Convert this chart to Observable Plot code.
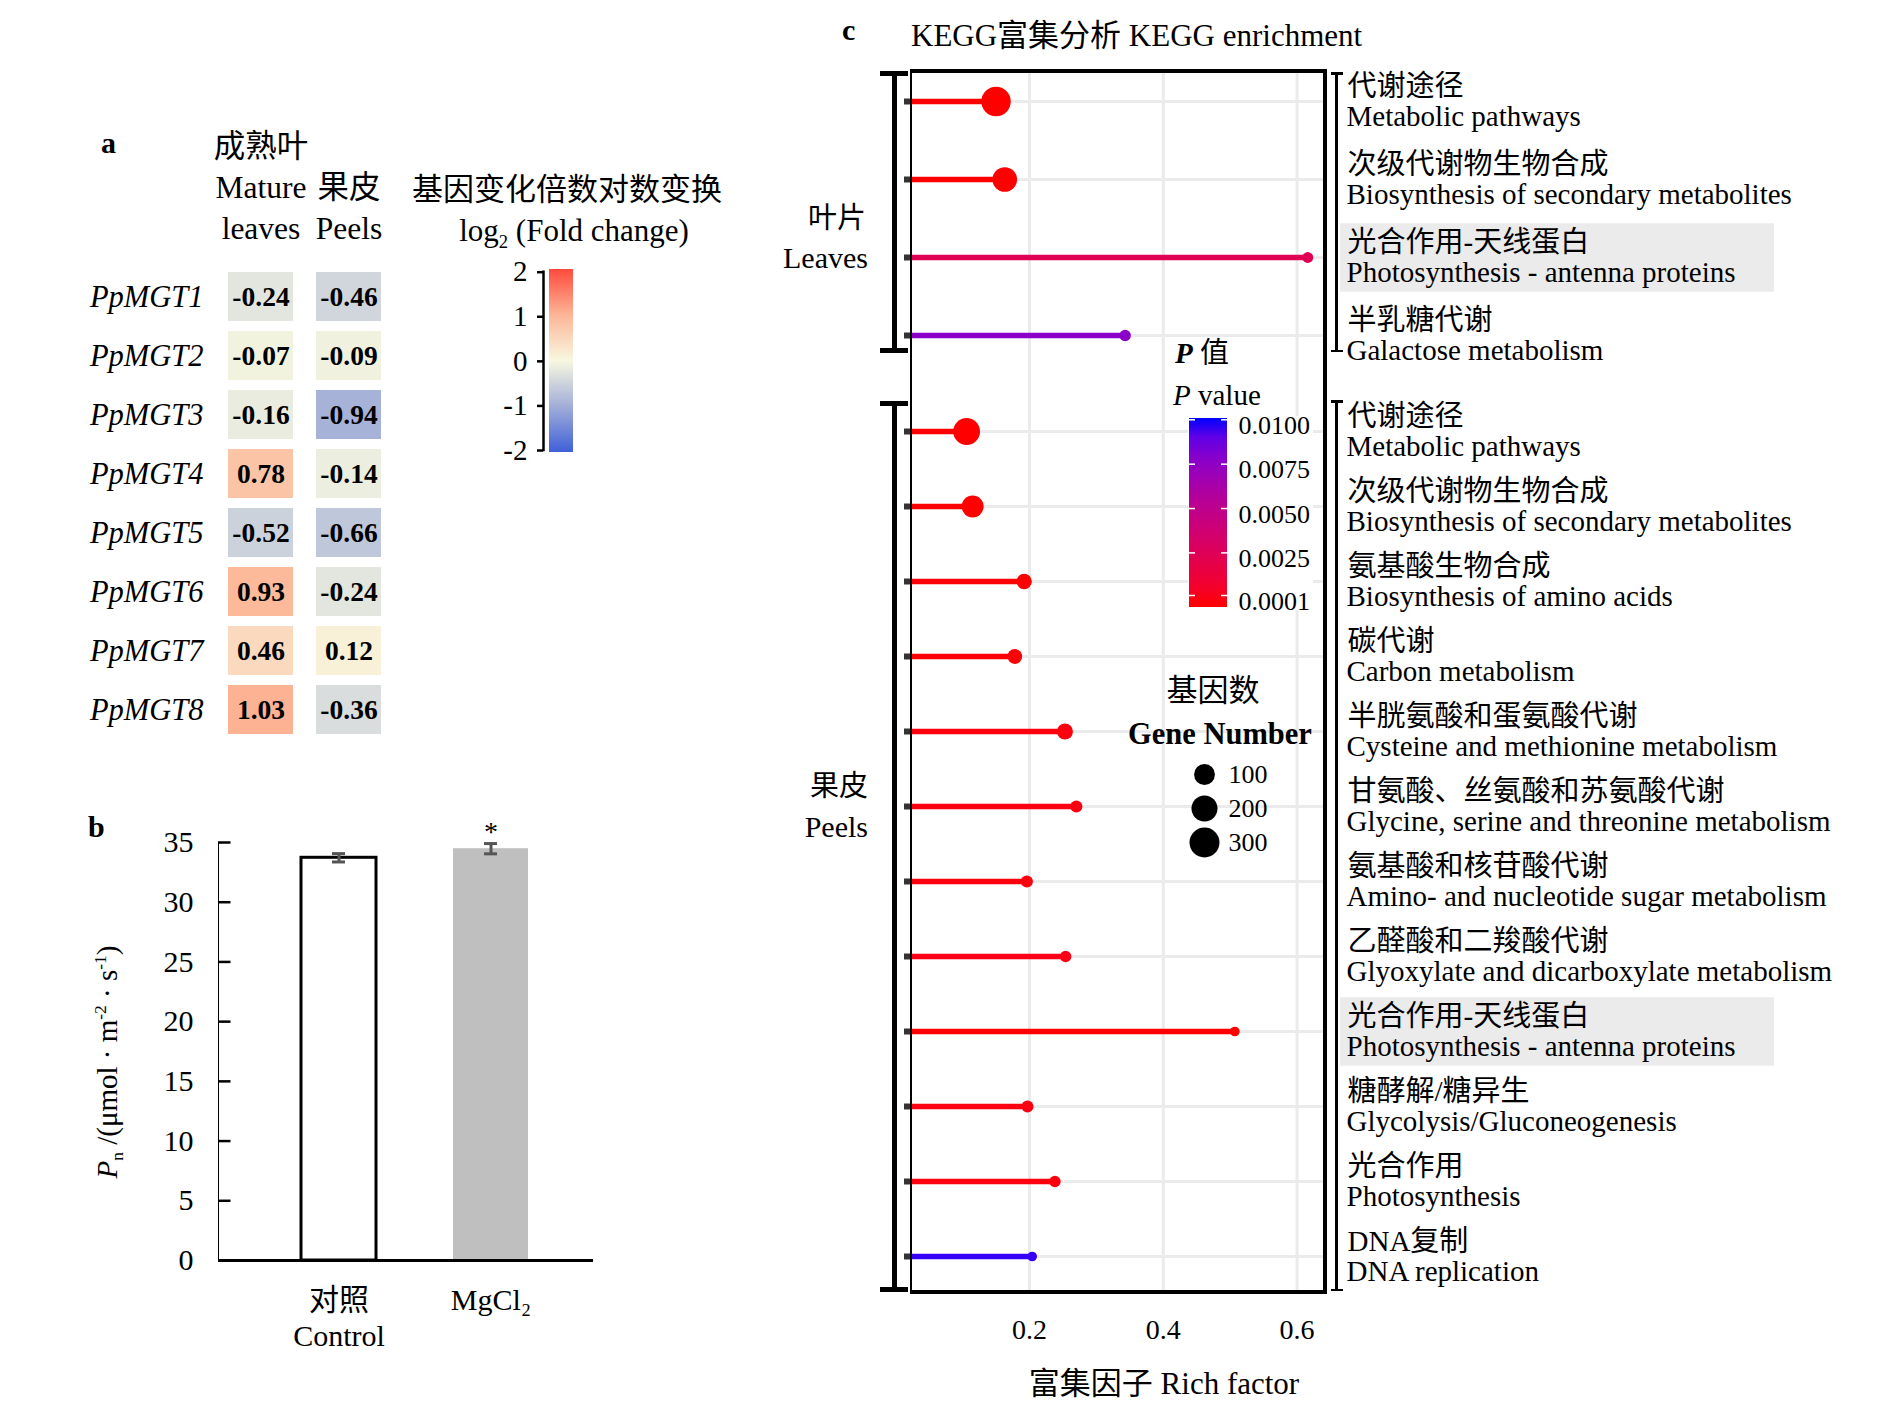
<!DOCTYPE html>
<html><head><meta charset="utf-8">
<script src="https://cdn.jsdelivr.net/npm/d3@7"></script>
<script src="https://cdn.jsdelivr.net/npm/@observablehq/plot@0.6"></script>
<style>
html,body{margin:0;padding:0;background:#fff;}
#fig{position:relative;width:1890px;height:1417px;overflow:hidden;font-family:"Liberation Serif","Times New Roman","Noto Sans CJK SC",serif;color:#000;background:#fff;}
.abs{position:absolute;white-space:nowrap;line-height:1;}
.abs svg{overflow:visible;}
sub,sup{font-size:0.6em;line-height:0;}
</style></head><body><div id="fig"></div>
<script>
// ================= DATA =================
// panel a
const genes = ["PpMGT1","PpMGT2","PpMGT3","PpMGT4","PpMGT5","PpMGT6","PpMGT7","PpMGT8"];
const tissues = ["Mature leaves","Peels"];
const tissueHeaders = ["成熟叶\nMature\nleaves","果皮\nPeels"];
const matureLog2FC = [-0.24,-0.07,-0.16,0.78,-0.52,0.93,0.46,1.03];
const peelLog2FC = [-0.46,-0.09,-0.94,-0.14,-0.66,-0.24,0.12,-0.36];
const fcTicks = [-2,-1,0,1,2];
const fcColors = ["#3f60d8","#a2aed8","#f8f8e0","#fcb596","#ff4a3c"];
// panel b
const treatments = ["Control","MgCl2"];
const treatmentLabels = ["对照\nControl","MgCl₂"];
const pnMean = [33.72, 34.48];
const pnSE = [0.35, 0.43];
const pnSignif = ["", "*"];
const pnTicks = [0,5,10,15,20,25,30,35];
// panel c
const leafCn = ["代谢途径","次级代谢物生物合成","光合作用-天线蛋白","半乳糖代谢"];
const leafEn = ["Metabolic pathways","Biosynthesis of secondary metabolites","Photosynthesis - antenna proteins","Galactose metabolism"];
const leafRich = [0.150,0.163,0.616,0.343];
const leafGenes = [284,169,4,6];
const leafP = [0.0001,0.0001,0.0028,0.0078];
const peelCn = ["代谢途径","次级代谢物生物合成","氨基酸生物合成","碳代谢","半胱氨酸和蛋氨酸代谢","甘氨酸、丝氨酸和苏氨酸代谢","氨基酸和核苷酸代谢","乙醛酸和二羧酸代谢","光合作用-天线蛋白","糖酵解/糖异生","光合作用","DNA复制"];
const peelEn = ["Metabolic pathways","Biosynthesis of secondary metabolites","Biosynthesis of amino acids","Carbon metabolism","Cysteine and methionine metabolism","Glycine, serine and threonine metabolism","Amino- and nucleotide sugar metabolism","Glyoxylate and dicarboxylate metabolism","Photosynthesis - antenna proteins","Glycolysis/Gluconeogenesis","Photosynthesis","DNA replication"];
const peelRich = [0.106,0.115,0.192,0.178,0.253,0.270,0.196,0.254,0.507,0.197,0.238,0.204];
const peelGenes = [218,119,31,26,37,9,9,6,1,8,6,1];
const peelP = [0.0001,0.0001,0.0002,0.0002,0.0003,0.0004,0.0003,0.0005,0.0001,0.0004,0.0003,0.0097];
const highlightPathway = "Photosynthesis - antenna proteins";
const richTicks = [0.2,0.4,0.6];
const pTicks = [0.0001,0.0025,0.005,0.0075,0.01];
const geneBreaks = [100,200,300];

// ================= HELPERS =================
const FONT = '"Liberation Serif","Times New Roman","Noto Sans CJK SC",serif';
const fig = document.getElementById("fig");
function place(node, left, top, w) {
  const d = document.createElement("div");
  d.className = "abs";
  d.style.left = left + "px"; d.style.top = top + "px";
  if (w) d.style.width = w + "px";
  d.appendChild(node); fig.appendChild(d); return d;
}
function txt(html, x, y, o = {}) {
  const {anchor = "start", size = 28, weight = "normal", style = "normal", rotate = 0} = o;
  const d = document.createElement("div");
  d.className = "abs"; d.innerHTML = html;
  Object.assign(d.style, {left: x + "px", top: y + "px", fontSize: size + "px", fontWeight: weight, fontStyle: style});
  const tx = anchor === "start" ? "0" : anchor === "middle" ? "-50%" : "-100%";
  d.style.transform = `translate(${tx},-50%)` + (rotate ? ` rotate(${rotate}deg)` : "");
  fig.appendChild(d); return d;
}
function rect(x, y, w, h, css) {
  const d = document.createElement("div");
  d.className = "abs";
  Object.assign(d.style, {left: x + "px", top: y + "px", width: w + "px", height: h + "px"}, css);
  fig.appendChild(d); return d;
}
const baseStyle = (size) => ({fontFamily: FONT, fontSize: size + "px", background: "transparent", overflow: "visible", color: "black"});

// ================= PANEL a =================
const heatData = genes.flatMap((g, i) => [
  {gene: g, tissue: tissues[0], v: matureLog2FC[i]},
  {gene: g, tissue: tissues[1], v: peelLog2FC[i]}
]);
const fcInterp = d3.piecewise(d3.interpolateRgb, fcColors);
const heat = Plot.plot({
  width: 324, height: 626, marginLeft: 125, marginRight: 0, marginTop: 139.1, marginBottom: 0,
  x: {type: "band", domain: tissues, padding: 0.26, axis: null},
  y: {type: "band", domain: genes, padding: 0.17, axis: null},
  color: {type: "linear", domain: [fcTicks[0], fcTicks[fcTicks.length - 1]], interpolate: fcInterp},
  style: baseStyle(30),
  marks: [
    Plot.cell(heatData, {x: "tissue", y: "gene", fill: "v", inset: 0}),
    Plot.text(heatData, {x: "tissue", y: "gene", text: d => d.v.toFixed(2), fontSize: 27.5, fontWeight: "bold"}),
    Plot.axisY({tickSize: 0, tickPadding: 2, fontSize: 30.5, fontStyle: "italic", label: null}),
    Plot.axisX({anchor: "top", tickSize: 0, tickPadding: 21, fontSize: 31.5, lineHeight: 1.3,
      tickFormat: d => tissueHeaders[tissues.indexOf(d)], label: null})
  ]
});
place(heat, 80, 120, 324);

// colour bar of panel a
const fcStops = fcTicks.map((v, i) => `${fcColors[i]} ${(v - fcTicks[0]) / (fcTicks[fcTicks.length - 1] - fcTicks[0]) * 100}%`).join(",");
rect(549, 269.3, 24, 182.4, {background: `linear-gradient(to top, ${fcStops})`});
const fcAxis = Plot.plot({
  width: 70, height: 220, marginLeft: 63, marginRight: 0, marginTop: 21.7, marginBottom: 20,
  x: {domain: [0, 1], axis: null},
  y: {domain: [fcTicks[0], fcTicks[fcTicks.length - 1]], axis: null},
  style: baseStyle(29),
  marks: [
    Plot.ruleX([0], {strokeWidth: 2.5, strokeLinecap: "square"}),
    Plot.axisY({ticks: fcTicks, tickSize: 6, tickPadding: 10, strokeWidth: 2.5, tickFormat: d => String(d), label: null})
  ]
});
place(fcAxis, 480, 250, 70);
txt("<b>a</b>", 101, 143, {size: 30});
txt("基因变化倍数对数变换", 567, 189, {anchor: "middle", size: 31});
txt("log<sub>2</sub> (Fold change)", 574, 230, {anchor: "middle", size: 31});

// ================= PANEL b =================
const pnData = treatments.map((t, i) => ({t, mean: pnMean[i], se: pnSE[i], sig: pnSignif[i]}));
const bFrameW = 375;
const bPlot = Plot.plot({
  width: 158 + bFrameW, height: 560, marginLeft: 158, marginRight: 0, marginTop: 42, marginBottom: 100,
  x: {type: "band", domain: treatments, paddingInner: 0.505, paddingOuter: 0.4845, align: 0.559, axis: null},
  y: {domain: [0, 35], ticks: pnTicks, tickSize: 0, tickPadding: 25, line: true, label: null},
  style: baseStyle(30),
  marks: [
    Plot.barY(pnData.filter(d => d.t === treatments[0]), {x: "t", y: "mean", fill: "white", stroke: "black", strokeWidth: 3}),
    Plot.barY(pnData.filter(d => d.t !== treatments[0]), {x: "t", y: "mean", fill: "#bfbfbf"}),
    Plot.ruleX(pnData, {x: "t", y1: d => d.mean - d.se, y2: d => d.mean + d.se, stroke: "#555", strokeWidth: 3}),
    Plot.tickY(pnData, {x: "t", y: d => d.mean - d.se, stroke: "#555", strokeWidth: 3, insetLeft: 31, insetRight: 31}),
    Plot.tickY(pnData, {x: "t", y: d => d.mean + d.se, stroke: "#555", strokeWidth: 3, insetLeft: 31, insetRight: 31}),
    Plot.text(pnData, {x: "t", y: d => d.mean + d.se, text: "sig", dy: -12, fontSize: 28}),
    Plot.tickY(pnTicks, {y: d => d, strokeWidth: 2.5, insetRight: bFrameW - 12.5}),
    Plot.ruleY([0], {strokeWidth: 3}),
    Plot.axisX({tickSize: 0, tickPadding: 24, fontSize: 30, lineHeight: 1.2,
      tickFormat: d => treatmentLabels[treatments.indexOf(d)], label: null})
  ]
});
place(bPlot, 60, 800, 158 + bFrameW);
txt("<b>b</b>", 88, 827, {size: 30});
txt('<i>P</i><sub>n</sub> /(μmol · m<sup>-2</sup> · s<sup>-1</sup>)', 107, 1062, {anchor: "middle", rotate: -90, size: 29});

// ================= PANEL c =================
const leafRows = leafEn.map((en, i) => ({en, cn: leafCn[i], rich: leafRich[i], genes: leafGenes[i], p: leafP[i]}));
const peelRows = peelEn.map((en, i) => ({en, cn: peelCn[i], rich: peelRich[i], genes: peelGenes[i], p: peelP[i]}));
const richDomain = [0.0236, 0.6395];
const pColor = {type: "linear", domain: [pTicks[0], pTicks[pTicks.length - 1]], range: ["red", "blue"], interpolate: "lab"};
const rScale = {type: "sqrt", domain: [0, 300], range: [4.2, 15]};

function lollipop(rows, {height, marginBottom = 0, padding, align, axis = false}) {
  return Plot.plot({
    width: 443, height, marginLeft: 31, marginRight: 0, marginTop: 0, marginBottom,
    x: {domain: richDomain, axis: null},
    y: {type: "point", domain: rows.map(d => d.en), padding, align, axis: null},
    r: rScale, color: pColor,
    style: baseStyle(27),
    marks: [
      Plot.gridX(richTicks, {stroke: "#ebebeb", strokeOpacity: 1, strokeWidth: 3}),
      Plot.gridY({stroke: "#ebebeb", strokeOpacity: 1, strokeWidth: 3}),
      Plot.axisY({tickSize: 7, tickFormat: () => "", stroke: "#333", strokeWidth: 6, label: null}),
      Plot.ruleY(rows, {y: "en", x1: () => richDomain[0], x2: "rich", stroke: "p", strokeWidth: 5.5}),
      Plot.dot(rows, {x: "rich", y: "en", r: "genes", fill: "p"}),
      axis ? Plot.axisX({ticks: richTicks, tickSize: 0, tickPadding: 27, fontSize: 28, tickFormat: d => String(d), label: null}) : null
    ]
  });
}
function labelsPlot(rows, {height, marginBottom = 0, padding, align}) {
  return Plot.plot({
    width: 434, height, marginLeft: 0, marginRight: 0, marginTop: 0, marginBottom,
    y: {type: "point", domain: rows.map(d => d.en), padding, align, axis: null},
    style: baseStyle(29),
    marks: [
      Plot.ruleY(rows.filter(d => d.en === highlightPathway), {y: "en", stroke: "#ebebeb", strokeWidth: 68.5}),
      Plot.text(rows, {y: "en", text: "cn", frameAnchor: "left", textAnchor: "start", dx: 7, dy: -15, fontSize: 29}),
      Plot.text(rows, {y: "en", text: "en", frameAnchor: "left", textAnchor: "start", dx: 6, dy: 15, fontSize: 29})
    ]
  });
}
const leafLayout = {height: 312, padding: 0.49, align: 0.387};
const peelLayout = {height: 969, marginBottom: 60, padding: 0.5286, align: 0.577};
place(lollipop(leafRows, leafLayout), 880, 71, 443);
place(lollipop(peelRows, {...peelLayout, axis: true}), 880, 383, 443);
place(labelsPlot(leafRows, leafLayout), 1340, 71, 434);
place(labelsPlot(peelRows, peelLayout), 1340, 383, 434);

// P value legend
rect(1188, 416, 125, 194, {background: "white"});
const labInterp = d3.interpolateLab(pColor.range[0], pColor.range[1]);
const pStops = d3.range(0, 11).map(i => `${labInterp(i / 10)} ${i * 10}%`).join(",");
rect(1189, 417.7, 38, 189, {background: `linear-gradient(to top, ${pStops})`});
const pAxis = Plot.plot({
  width: 130, height: 220, marginLeft: 0, marginRight: 92, marginTop: 19.3, marginBottom: 25,
  y: {domain: [pTicks[0], pTicks[pTicks.length - 1]], axis: null},
  style: baseStyle(26),
  marks: [
    Plot.tickY(pTicks, {y: d => d, stroke: "white", strokeWidth: 1.5, insetRight: 32}),
    Plot.tickY(pTicks, {y: d => d, stroke: "white", strokeWidth: 1.5, insetLeft: 32}),
    Plot.axisY({ticks: pTicks, anchor: "right", tickSize: 0, tickPadding: 11, tickFormat: d3.format(".4f"), fontSize: 26, dy: 6, label: null})
  ]
});
place(pAxis, 1189, 400, 130);
txt("<b><i>P</i></b> 值", 1175, 353, {size: 29});
txt("<i>P</i> value", 1173, 395, {size: 29});

// gene number legend
const sizeLeg = Plot.plot({
  width: 110, height: 105, marginLeft: 0, marginRight: 0, marginTop: 0, marginBottom: 0,
  y: {type: "point", domain: geneBreaks, range: [18.3, 86.7], padding: 0, axis: null},
  r: rScale,
  style: baseStyle(26),
  marks: [
    Plot.dot(geneBreaks, {y: d => d, r: d => d, frameAnchor: "left", dx: 24, fill: "black"}),
    Plot.text(geneBreaks, {y: d => d, text: d => String(d), frameAnchor: "left", dx: 48, textAnchor: "start", fontSize: 26})
  ]
});
place(sizeLeg, 1180, 755, 110);
txt("基因数", 1213, 690, {anchor: "middle", size: 31});
txt("<b>Gene Number</b>", 1220, 734, {anchor: "middle", size: 30.5});

// frame and brackets
rect(910, 69, 417, 1225, {border: "4px solid black", borderLeftWidth: "2.5px", boxSizing: "border-box"});
const K = {background: "black"};
rect(891.5, 71, 5, 282, K); rect(880, 71, 28, 5, K); rect(880, 348, 28, 5, K);
rect(891.5, 401, 5, 891, K); rect(880, 401, 28, 5, K); rect(880, 1287, 28, 5, K);
rect(1335, 72, 2.5, 280, K); rect(1331, 72, 12, 2.5, K); rect(1331, 349.5, 12, 2.5, K);
rect(1335, 400, 2.5, 891, K); rect(1331, 400, 12, 2.5, K); rect(1331, 1288.5, 12, 2.5, K);

txt("叶片", 866, 218, {anchor: "end", size: 29});
txt("Leaves", 868, 258, {anchor: "end", size: 30});
txt("果皮", 868, 786, {anchor: "end", size: 29});
txt("Peels", 868, 827, {anchor: "end", size: 30});
txt("<b>c</b>", 842, 30, {size: 30});
txt("KEGG富集分析 KEGG enrichment", 911, 35, {size: 31});
txt("富集因子 Rich factor", 1164, 1383, {anchor: "middle", size: 31});
</script></body></html>
